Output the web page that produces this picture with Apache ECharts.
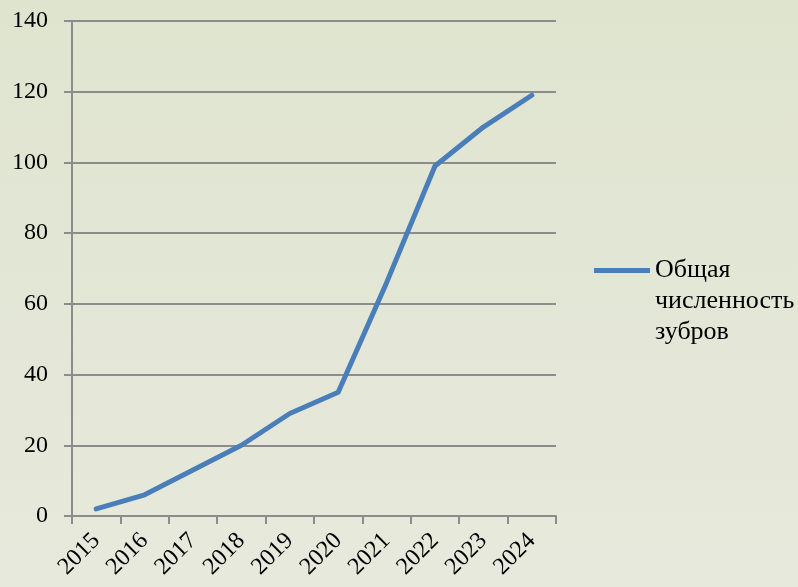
<!DOCTYPE html>
<html>
<head>
<meta charset="utf-8">
<script src="https://cdn.jsdelivr.net/npm/echarts@6/dist/echarts.min.js"></script>
<style>
html,body{margin:0;padding:0;}
#c{width:798px;height:587px;}
</style>
</head>
<body>
<div id="c"></div>
<script>
const years = ['2015','2016','2017','2018','2019','2020','2021','2022','2023','2024'];
const bisonTotal = [2, 6, 13, 20, 29, 35, 66, 99, 110, 119];
const seriesName = 'Общая численность зубров';
const yTicks = {min: 0, max: 140, interval: 20};

const chart = echarts.init(document.getElementById('c'), null, {renderer: 'canvas'});
const font = 'Liberation Serif';
chart.setOption({
  animation: false,
  backgroundColor: {
    type: 'linear', x: 0, y: 0, x2: 0, y2: 1,
    colorStops: [{offset: 0, color: '#dfe4cf'}, {offset: 1, color: '#e7e9dc'}]
  },
  grid: {left: 72, right: 242, top: 21, bottom: 71, containLabel: false},
  legend: {
    data: [seriesName],
    left: 594, top: 255, padding: 0,
    itemWidth: 56, itemHeight: 93,
    itemGap: 0,
    icon: 'path://M0,0 L0.01,0 L0,0.01 Z M0,13 L56,13 L56,18 L0,18 Z M0,92.99 L0.01,93 L0,93 Z',
    formatter: () => 'Общая\nчисленность\nзубров',
    textStyle: {fontFamily: font, fontSize: 26, color: '#000', lineHeight: 31}
  },
  xAxis: {
    type: 'category',
    data: years,
    boundaryGap: true,
    axisLine: {lineStyle: {color: '#8c8c8c', width: 2}},
    axisTick: {show: true, length: 8, lineStyle: {color: '#8c8c8c', width: 2}, alignWithLabel: false},
    axisLabel: {rotate: 45, fontFamily: font, fontSize: 24, color: '#000', margin: 21, interval: 0},
    splitLine: {show: false}
  },
  yAxis: {
    type: 'value',
    min: yTicks.min, max: yTicks.max, interval: yTicks.interval,
    axisLine: {show: true, lineStyle: {color: '#8c8c8c', width: 2}},
    axisTick: {show: true, length: 8, lineStyle: {color: '#8c8c8c', width: 2}},
    axisLabel: {fontFamily: font, fontSize: 24, color: '#000', margin: 24},
    splitLine: {show: true, lineStyle: {color: '#8c8c8c', width: 2}}
  },
  series: [{
    name: seriesName,
    type: 'line',
    data: bisonTotal,
    symbol: 'none',
    lineStyle: {color: '#4a7ebb', width: 5, cap: 'round', join: 'round'},
    itemStyle: {color: '#4a7ebb'}
  }]
});
</script>
</body>
</html>
